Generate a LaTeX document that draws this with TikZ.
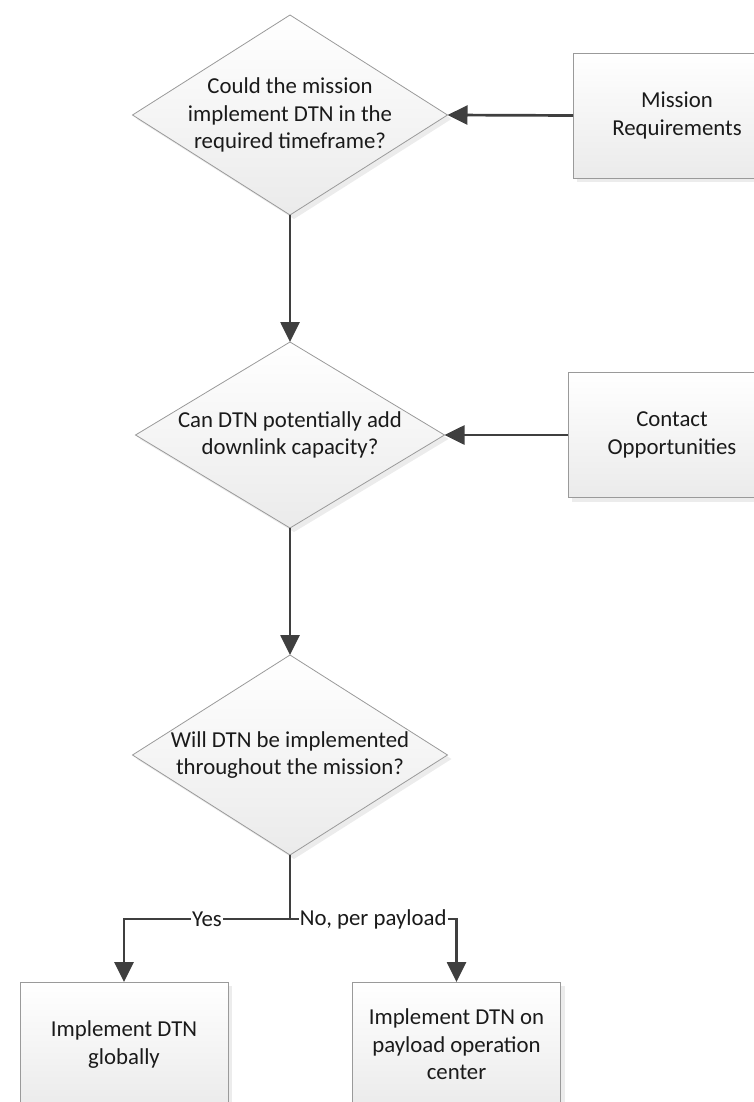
\documentclass[tikz,border=0pt]{standalone}
\usepackage{fontspec}
\setmainfont{Carlito}
\usetikzlibrary{shapes.geometric,arrows.meta,shadows}
\definecolor{linegray}{HTML}{3F3F3F}
\definecolor{bordergray}{HTML}{9A9A9A}
\definecolor{txtgray}{HTML}{1A1A1A}
\begin{document}
\begin{tikzpicture}[x=1pt,y=-1pt,
  shapebase/.style={draw=bordergray, line width=0.8pt, top color=white, bottom color=black!8,
    drop shadow={shadow xshift=4pt, shadow yshift=-4pt, fill=black!15}},
  decision/.style={shapebase, diamond, inner sep=0pt, outer sep=0pt},
  process/.style={shapebase, rectangle, minimum width=208pt, minimum height=125pt,
    inner sep=0pt, outer sep=0pt, align=center, text=txtgray, font=\fontsize{22.8}{27.5}\selectfont},
  qtext/.style={align=center, text=txtgray, font=\fontsize{22.8}{27.5}\selectfont, inner sep=0pt},
  flow/.style={draw=linegray, line width=2.7pt, -{Triangle[length=20pt,width=19pt]}},
  trunk/.style={draw=linegray, line width=2.7pt},
  lbl/.style={fill=white, inner sep=1pt, text=txtgray, font=\fontsize{22.8}{27.5}\selectfont}
]
\useasboundingbox (0,0) rectangle (754,1102);

% decisions
\node[decision, minimum width=315pt, minimum height=200pt] (d1) at (290,115) {};
\node[qtext] (d1t) at (d1.center) {Could the mission\\implement DTN in the\\required timeframe?};

\node[decision, minimum width=309pt, minimum height=186pt] (d2) at (290,435) {};
\node[qtext] (d2t) at (d2.center) {Can DTN potentially add\\downlink capacity?};

\node[decision, minimum width=315pt, minimum height=200pt] (d3) at (290,755) {};
\node[qtext] (d3t) at (d3.center) {Will DTN be implemented\\throughout the mission?};

% inputs and outcomes
\node[process] (req) at (677,115.5) {Mission\\Requirements};
\node[process] (contact) at (672,435) {Contact\\Opportunities};
\node[process] (global) at (124,1044.5) {Implement DTN\\globally};
\node[process] (payload) at (456.5,1044.5) {Implement DTN on\\payload operation\\center};

% connectors
\draw[flow] (req.west) -- (d1.east);
\draw[flow] (contact.west) -- (d2.east);
\draw[flow] (d1.south) -- (d2.north);
\draw[flow] (d2.south) -- (d3.north);

\coordinate (split) at (290,919);
\draw[trunk] (d3.south) -- (split);
\draw[flow] (split) -| node[pos=0.25, lbl] (yes) {Yes} (global.north);
\draw[flow] (split) -| node[pos=0.25, lbl] (no) {No, per payload} (payload.north);
\end{tikzpicture}
\end{document}
